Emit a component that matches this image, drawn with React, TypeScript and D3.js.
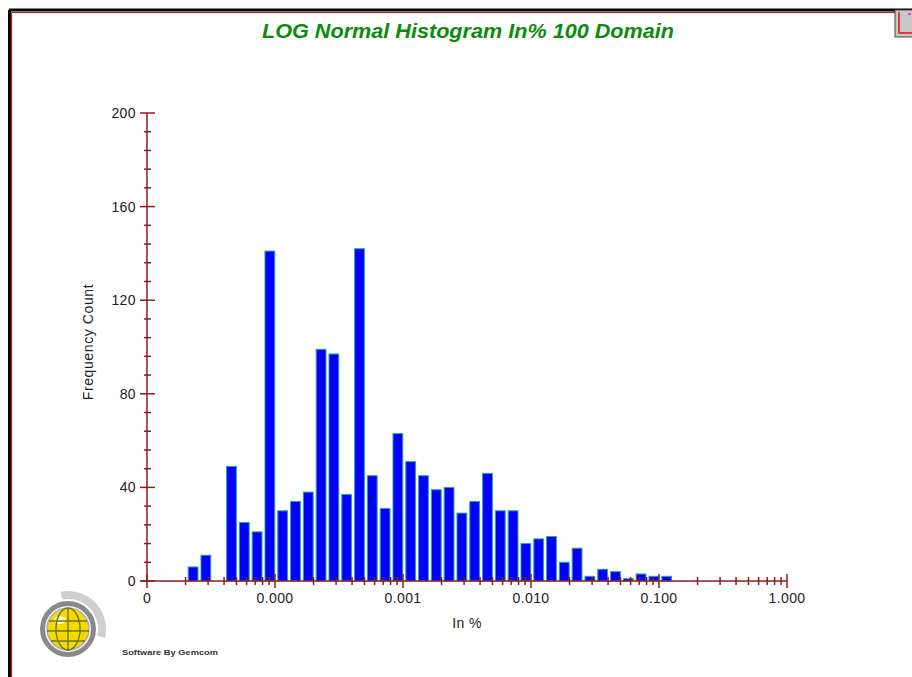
import * as d3 from 'd3'

// histogram counts, bins are 0.1 wide in log10(In %)
const binStartLog = -4.69
const binWidthLog = 0.1
const counts = [
  6, 11, 0, 49, 25, 21, 141, 30, 34, 38, 99, 97, 37, 142, 45, 31, 63, 51, 45,
  39, 40, 29, 34, 46, 30, 30, 16, 18, 19, 8, 14, 2, 5, 4, 1, 3, 2, 2,
]

const xDecades = [1e-5, 1e-4, 1e-3, 1e-2, 1e-1, 1]
const xTickLabels = ['0', '0.000', '0.001', '0.010', '0.100', '1.000']
const yMajor = [0, 40, 80, 120, 160, 200]

const TITLE = 'LOG Normal Histogram In% 100 Domain'
const AXIS = '#8c1c1c'

export default function App() {
  const W = 912
  const H = 677

  const x = d3.scaleLog().domain([1e-5, 1]).range([147, 787])
  const y = d3.scaleLinear().domain([0, 200]).range([581, 113])

  // minor ticks 2..9 in each decade
  const xMinor: number[] = []
  xDecades.slice(0, -1).forEach((d) => {
    for (let k = 2; k <= 9; k++) xMinor.push(d * k)
  })
  const yMinor = d3.range(0, 201, 8).filter((v) => v % 40 !== 0)

  const bars = counts.map((c, i) => {
    const lo = Math.pow(10, binStartLog + i * binWidthLog)
    const hi = Math.pow(10, binStartLog + (i + 1) * binWidthLog)
    return { x0: x(lo), x1: x(hi), c }
  })

  const font = 'Arial, "Liberation Sans", sans-serif'
  const gx = 68,
    gy = 629

  return (
    <svg
      width={W}
      height={H}
      style={{ position: 'absolute', left: 0, top: 0, background: '#fff' }}
      fontFamily={font}
    >
      {/* frame */}
      <line x1={9} y1={10} x2={912} y2={10} stroke="#000" strokeWidth={3} />
      <line x1={9.5} y1={10} x2={9.5} y2={677} stroke="#000" strokeWidth={3} />
      <line x1={11.5} y1={12.5} x2={895} y2={12.5} stroke="#c01818" strokeWidth={1.2} />
      <line x1={11.5} y1={12.5} x2={11.5} y2={677} stroke="#c01818" strokeWidth={1.2} />
      {/* small button top-right */}
      <rect x={895} y={10} width={18} height={27} fill="#c8c8c8" stroke="#444" strokeWidth={1} />
      <path d="M899,12 V33 H912" fill="none" stroke="#e01010" strokeWidth={1.5} />
      <rect x={908} y={13} width={3} height={2} fill="#e040e0" />

      <text
        x={468}
        y={38}
        textAnchor="middle"
        fontSize={20}
        fontWeight="bold"
        fontStyle="italic"
        fill="#0a8c0a"
        textLength={412}
        lengthAdjust="spacingAndGlyphs"
      >
        {TITLE}
      </text>

      {/* bars */}
      <g fill="#0000ff" stroke="#2fa3a0" strokeWidth={1}>
        {bars
          .filter((b) => b.c > 0)
          .map((b, i) => (
            <rect
              key={i}
              x={b.x0 + 1.5}
              y={y(b.c)}
              width={b.x1 - b.x0 - 3}
              height={y(0) - y(b.c)}
            />
          ))}
      </g>

      {/* y axis */}
      <g stroke={AXIS} strokeWidth={1.5}>
        <line x1={147} y1={y(200)} x2={147} y2={y(0)} />
        {yMajor.map((v) => (
          <line key={'ym' + v} x1={140} x2={155} y1={y(v)} y2={y(v)} />
        ))}
        {yMinor.map((v) => (
          <line key={'yn' + v} x1={144} x2={151} y1={y(v)} y2={y(v)} />
        ))}
      </g>
      <g fontSize={14} fill="#222" textAnchor="end" letterSpacing={0.4}>
        {yMajor.map((v) => (
          <text key={v} x={136} y={y(v) + 5}>
            {v}
          </text>
        ))}
      </g>

      {/* x axis */}
      <g stroke={AXIS} strokeWidth={1.5}>
        <line x1={141} y1={581} x2={787} y2={581} />
        {xDecades.map((d) => (
          <line key={'xm' + d} x1={x(d)} x2={x(d)} y1={574} y2={588} />
        ))}
        {xMinor.map((d) => (
          <line key={'xn' + d} x1={x(d)} x2={x(d)} y1={577} y2={585} />
        ))}
      </g>
      <g fontSize={14} fill="#222" textAnchor="middle" letterSpacing={0.4}>
        {xDecades.map((d, i) => (
          <text key={d} x={x(d)} y={603}>
            {xTickLabels[i]}
          </text>
        ))}
      </g>

      <text x={467} y={628} textAnchor="middle" fontSize={14} fill="#222" letterSpacing={0.4}>
        In %
      </text>
      <text
        transform="translate(93,342) rotate(-90)"
        textAnchor="middle"
        fontSize={14}
        fill="#222"
        letterSpacing={0.6}
      >
        Frequency Count
      </text>

      {/* logo */}
      <g>
        <path
          d={d3.arc()({
            innerRadius: 30,
            outerRadius: 38,
            startAngle: -0.2,
            endAngle: 1.8,
          }) as string}
          transform={`translate(${gx},${gy})`}
          fill="#cfcfcf"
        />
        <circle cx={gx} cy={gy} r={25.5} fill="#fff" stroke="#8a8a8a" strokeWidth={5} />
        <circle cx={gx} cy={gy} r={21} fill="#f5d800" stroke="#b0b0b0" strokeWidth={1.5} />
        <ellipse cx={gx - 8} cy={gy - 9} rx={6} ry={4} fill="#fffbe0" opacity={0.85} />
        <g fill="none" stroke="#6d7a10" strokeWidth={1.4}>
          <line x1={gx} y1={gy - 21} x2={gx} y2={gy + 21} />
          <ellipse cx={gx} cy={gy} rx={12} ry={21} />
          <line x1={gx - 19} y1={gy - 8} x2={gx + 19} y2={gy - 8} />
          <line x1={gx - 21} y1={gy + 2} x2={gx + 21} y2={gy + 2} />
          <line x1={gx - 17} y1={gy + 12} x2={gx + 17} y2={gy + 12} />
        </g>
      </g>
      <text
        x={122}
        y={655}
        fontSize={8}
        fontWeight="bold"
        fill="#333"
        textLength={96}
        lengthAdjust="spacingAndGlyphs"
      >
        Software By Gemcom
      </text>
    </svg>
  )
}
